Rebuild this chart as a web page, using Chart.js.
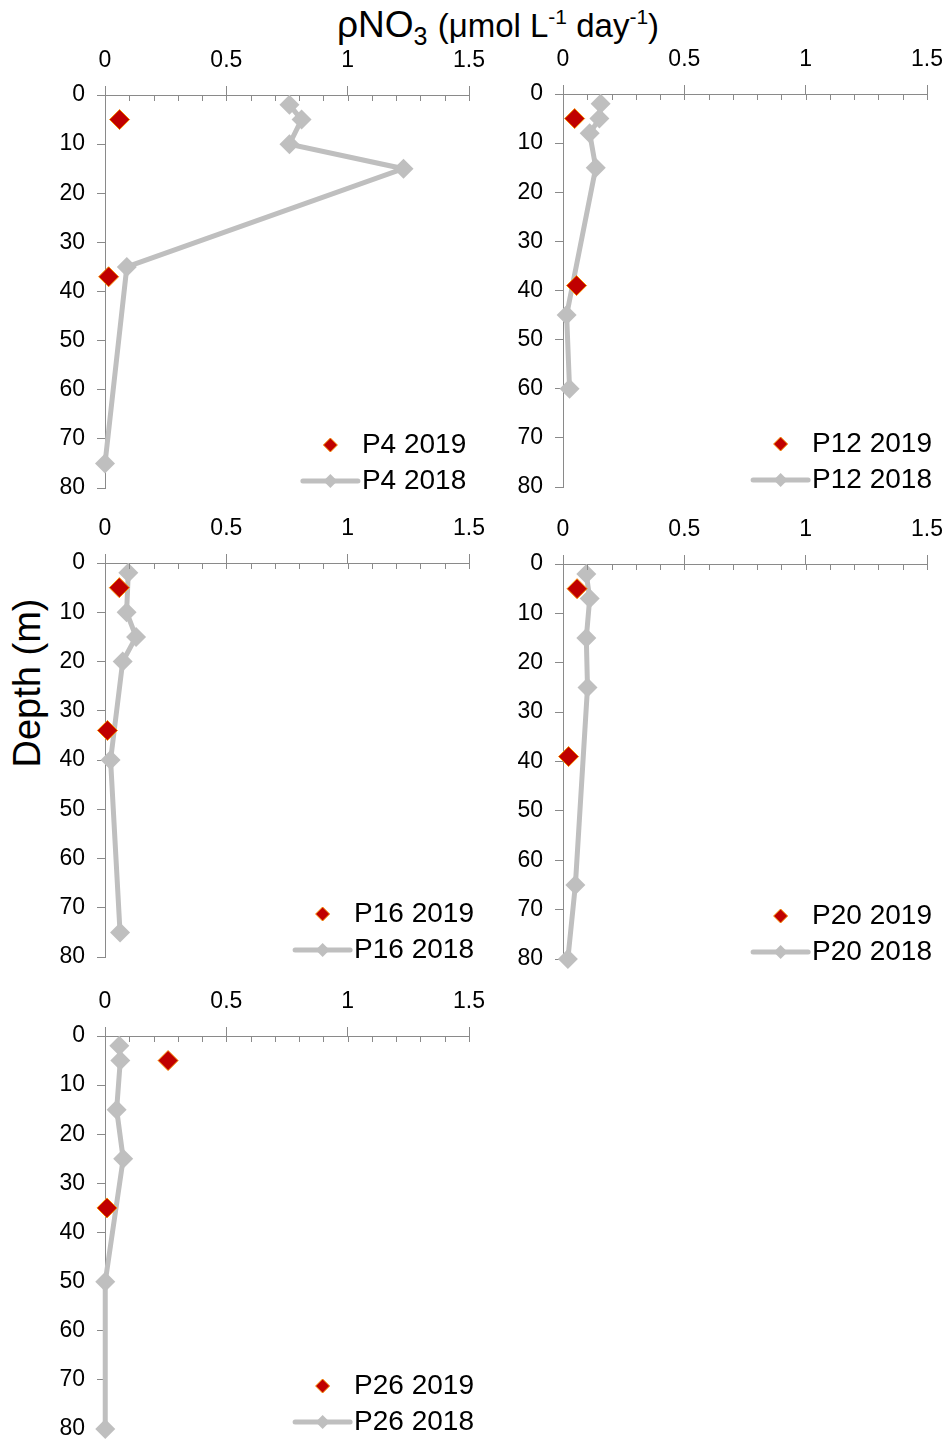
<!DOCTYPE html>
<html>
<head>
<meta charset="utf-8">
<script src="https://cdn.jsdelivr.net/npm/chart.js@4.4.1/dist/chart.umd.min.js"></script>
<style>
  html, body { margin: 0; padding: 0; background: #fff; }
  #page { position: relative; width: 947px; height: 1443px; overflow: hidden; background: #fff;
          font-family: "Liberation Sans", Arial, sans-serif; color: #000; }
  canvas { position: absolute; }
  #title { position: absolute; left: 248px; width: 500px; top: 0px; text-align: center;
           white-space: nowrap; line-height: 50px; font-size: 37px; }
  #title .u { font-size: 33px; }
  #title .sub { font-size: 25px; position: relative; top: 8px; }
  #title .sup { font-size: 21px; position: relative; top: -13px; }
  #ylab { position: absolute; left: 27px; top: 683px; transform: translate(-50%, -50%) rotate(-90deg);
          white-space: nowrap; font-size: 38px; }
</style>
</head>
<body>
<div id="page">
  <div id="title">ρNO<span class="sub">3</span> <span class="u">(μmol L<span class="sup">-1</span> day<span class="sup">-1</span>)</span></div>
  <div id="ylab">Depth (m)</div>
  <canvas id="cP4"></canvas>
  <canvas id="cP12"></canvas>
  <canvas id="cP16"></canvas>
  <canvas id="cP20"></canvas>
  <canvas id="cP26"></canvas>
</div>
<script>
// ---- Axis ticks ----
const rateTicks = [0, 0.5, 1, 1.5];           // labelled rate ticks (µmol L-1 day-1)
const depthTicks = [0, 10, 20, 30, 40, 50, 60, 70, 80];   // depth ticks (m)

// ---- Station P4 ----
const p4Depth2019 = [5, 37];
const p4Rate2019  = [0.06, 0.015];
const p4Depth2018 = [2, 5, 10, 15, 35, 75];
const p4Rate2018  = [0.76, 0.81, 0.76, 1.23, 0.09, 0.0];

// ---- Station P12 ----
const p12Depth2019 = [5, 39];
const p12Rate2019  = [0.048, 0.056];
const p12Depth2018 = [2, 5, 8, 15, 45, 60];
const p12Rate2018  = [0.155, 0.15, 0.11, 0.135, 0.015, 0.027];

// ---- Station P16 ----
const p16Depth2019 = [5, 34];
const p16Rate2019  = [0.059, 0.01];
const p16Depth2018 = [2, 10, 15, 20, 40, 75];
const p16Rate2018  = [0.096, 0.089, 0.128, 0.073, 0.023, 0.062];

// ---- Station P20 ----
const p20Depth2019 = [5, 39];
const p20Rate2019  = [0.058, 0.023];
const p20Depth2018 = [2, 7, 15, 25, 65, 80];
const p20Rate2018  = [0.096, 0.11, 0.096, 0.101, 0.051, 0.02];

// ---- Station P26 ----
const p26Depth2019 = [5, 35];
const p26Rate2019  = [0.26, 0.008];
const p26Depth2018 = [2, 5, 15, 25, 50, 80];
const p26Rate2018  = [0.059, 0.063, 0.048, 0.075, 0.001, 0.001];

const AXIS = '#8a8a8a';
const GREY = '#bfbfbf';
const RED = '#c00000';
const RED_EDGE = '#f58a00';
const TICK_FONT = { family: '"Liberation Sans", Arial, sans-serif', size: 23 };
const LEGEND_FONT = '28px "Liberation Sans", Arial, sans-serif';

const isMajor = v => Math.abs(v * 2 - Math.round(v * 2)) < 1e-6;

// short inward ticks every 0.1 along the top axis
const minorTicks = {
  id: 'minorTicks',
  afterDraw(chart) {
    const s = chart.scales.x, ctx = chart.ctx, top = chart.chartArea.top;
    ctx.save();
    ctx.strokeStyle = AXIS;
    ctx.lineWidth = 1;
    s.ticks.forEach(t => {
      if (t.value <= 1e-9) return;
      const px = Math.round(s.getPixelForValue(t.value)) + 0.5;
      ctx.beginPath();
      ctx.moveTo(px, top);
      ctx.lineTo(px, top + 6);
      ctx.stroke();
    });
    ctx.restore();
  }
};

function diamond(ctx, x, y, r) {
  ctx.beginPath();
  ctx.moveTo(x - r, y);
  ctx.lineTo(x, y - r);
  ctx.lineTo(x + r, y);
  ctx.lineTo(x, y + r);
  ctx.closePath();
}

// legend drawn inside the plot, lower right
const insideLegend = {
  id: 'insideLegend',
  afterDraw(chart) {
    const { ctx, chartArea: a } = chart;
    const ds = chart.data.datasets;
    ctx.save();
    ctx.font = LEGEND_FONT;
    const symW = 55, gap = 4;
    const textW = Math.max(...ds.map(d => ctx.measureText(d.label).width));
    const cx = a.left + 0.768 * (a.right - a.left);
    const x0 = cx - (symW + gap + textW) / 2;
    const rowY = [a.bottom - 43, a.bottom - 7];
    // 2019 marker
    diamond(ctx, x0 + symW / 2, rowY[0], 7);
    ctx.fillStyle = ds[0].pointBackgroundColor;
    ctx.fill();
    ctx.lineWidth = 1;
    ctx.strokeStyle = ds[0].pointBorderColor;
    ctx.stroke();
    // 2018 line + marker
    ctx.beginPath();
    ctx.moveTo(x0, rowY[1]);
    ctx.lineTo(x0 + symW, rowY[1]);
    ctx.lineWidth = ds[1].borderWidth;
    ctx.strokeStyle = ds[1].borderColor;
    ctx.lineCap = 'round';
    ctx.stroke();
    diamond(ctx, x0 + symW / 2, rowY[1], 7);
    ctx.fillStyle = ds[1].pointBackgroundColor;
    ctx.fill();
    // labels
    ctx.fillStyle = '#000';
    ctx.textBaseline = 'middle';
    ctx.textAlign = 'left';
    ctx.fillText(ds[0].label, x0 + symW + gap, rowY[0]);
    ctx.fillText(ds[1].label, x0 + symW + gap, rowY[1]);
    ctx.restore();
  }
};

function buildPanel(id, area, label, d2019, r2019, d2018, r2018) {
  const padL = 75, padT = 60, padR = 32, padB = 22;
  const cv = document.getElementById(id);
  const w = Math.round(area.r - area.l + padL + padR);
  const h = Math.round(area.b - area.t + padT + padB);
  cv.width = w; cv.height = h;
  cv.style.width = w + 'px'; cv.style.height = h + 'px';
  cv.style.left = (area.l - padL) + 'px';
  cv.style.top = (area.t - padT) + 'px';

  new Chart(cv, {
    type: 'scatter',
    data: {
      datasets: [
        {
          label: label + ' 2019',
          data: d2019.map((d, i) => ({ x: r2019[i], y: d })),
          showLine: false,
          pointStyle: 'rectRot',
          pointRadius: 10, pointHoverRadius: 10,
          pointBackgroundColor: RED,
          pointBorderColor: RED_EDGE,
          pointBorderWidth: 1,
          backgroundColor: RED, borderColor: RED_EDGE,
          clip: false
        },
        {
          label: label + ' 2018',
          data: d2018.map((d, i) => ({ x: r2018[i], y: d })),
          showLine: true,
          tension: 0,
          borderColor: GREY,
          borderWidth: 5,
          backgroundColor: GREY,
          pointStyle: 'rectRot',
          pointRadius: 10, pointHoverRadius: 10,
          pointBackgroundColor: GREY,
          pointBorderColor: GREY,
          pointBorderWidth: 0,
          clip: false
        }
      ]
    },
    options: {
      responsive: false,
      animation: false,
      devicePixelRatio: 1,
      layout: { padding: { left: 0, top: 0, right: padR, bottom: padB } },
      plugins: { legend: { display: false }, tooltip: { enabled: false }, title: { display: false } },
      scales: {
        x: {
          type: 'linear',
          position: 'top',
          min: rateTicks[0],
          max: rateTicks[rateTicks.length - 1],
          ticks: {
            stepSize: 0.1,
            autoSkip: false,
            maxRotation: 0,
            padding: 12,
            color: '#000',
            font: TICK_FONT,
            callback: v => (isMajor(v) ? String(Math.round(v * 2) / 2) : '')
          },
          grid: {
            drawOnChartArea: false,
            tickLength: 9,
            color: c => (c.tick && isMajor(c.tick.value) ? AXIS : 'rgba(0,0,0,0)')
          },
          border: { color: AXIS, width: 1 },
          afterFit(s) { s.height = padT; s.paddingLeft = 0; s.paddingRight = 0; }
        },
        y: {
          type: 'linear',
          reverse: true,
          min: depthTicks[0],
          max: depthTicks[depthTicks.length - 1],
          afterBuildTicks(s) { s.ticks = depthTicks.map(v => ({ value: v })); },
          ticks: { padding: 12, color: '#000', font: TICK_FONT },
          grid: { drawOnChartArea: false, tickLength: 8, color: AXIS },
          border: { color: AXIS, width: 1 },
          afterFit(s) { s.width = padL; s.paddingTop = 0; s.paddingBottom = 0; }
        }
      }
    },
    plugins: [minorTicks, insideLegend]
  });
}

buildPanel('cP4',  { l: 105, t: 95,   r: 469, b: 488 },  'P4',  p4Depth2019,  p4Rate2019,  p4Depth2018,  p4Rate2018);
buildPanel('cP12', { l: 563, t: 94,   r: 927, b: 487 },  'P12', p12Depth2019, p12Rate2019, p12Depth2018, p12Rate2018);
buildPanel('cP16', { l: 105, t: 563,  r: 469, b: 957 },  'P16', p16Depth2019, p16Rate2019, p16Depth2018, p16Rate2018);
buildPanel('cP20', { l: 563, t: 564,  r: 927, b: 959 },  'P20', p20Depth2019, p20Rate2019, p20Depth2018, p20Rate2018);
buildPanel('cP26', { l: 105, t: 1036, r: 469, b: 1429 }, 'P26', p26Depth2019, p26Rate2019, p26Depth2018, p26Rate2018);
</script>
</body>
</html>
